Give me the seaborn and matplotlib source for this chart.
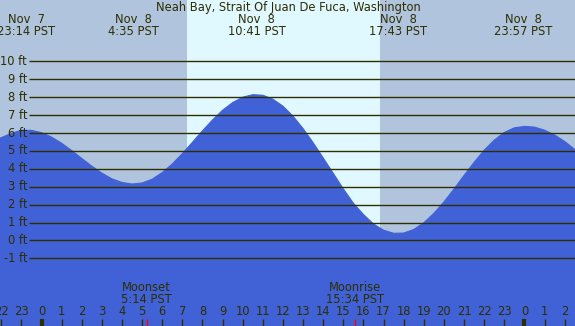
import numpy as np
import pandas as pd
import matplotlib
matplotlib.use("Agg")
import matplotlib.pyplot as plt
import seaborn as sns

# ---- data (hours relative to Nov 8 00:00 PST, heights in ft) ----
hours = [-2.1, -2.0, -1.5, -1.0, -0.5, 0.0, 0.5, 1.0, 1.5, 2.0, 2.5, 3.0, 3.5, 4.0, 4.5,
         5.0, 5.5, 6.0, 6.5, 7.0, 7.5, 8.0, 8.5, 9.0, 9.5, 10.0, 10.5, 11.0, 11.5, 12.0,
         12.5, 13.0, 13.5, 14.0, 14.5, 15.0, 15.5, 16.0, 16.5, 17.0, 17.5, 18.0, 18.5,
         19.0, 19.5, 20.0, 20.5, 21.0, 21.5, 22.0, 22.5, 23.0, 23.5, 24.0, 24.5, 25.0,
         25.5, 26.0, 26.6]
heights = [5.70, 5.74, 5.98, 6.15, 6.15, 6.02, 5.77, 5.43, 5.02, 4.58, 4.15, 3.76, 3.44,
           3.24, 3.15, 3.21, 3.42, 3.79, 4.27, 4.85, 5.48, 6.12, 6.73, 7.27, 7.70, 8.00,
           8.14, 8.11, 7.89, 7.50, 6.94, 6.25, 5.46, 4.61, 3.75, 2.88, 2.08, 1.45, 0.92,
           0.57, 0.40, 0.41, 0.61, 0.985, 1.51, 2.15, 2.87, 3.63, 4.36, 5.04, 5.60, 6.03,
           6.29, 6.37, 6.33, 6.16, 5.89, 5.53, 5.00]

title = "Neah Bay, Strait Of Juan De Fuca, Washington"
extreme_hours = [-0.767, 4.583, 10.683, 17.717, 23.95]
extreme_dates = ["Nov  7", "Nov  8", "Nov  8", "Nov  8", "Nov  8"]
extreme_times = ["23:14 PST", "4:35 PST", "10:41 PST", "17:43 PST", "23:57 PST"]

sunrise, sunset = 7.23, 16.82
moon_hours = [5.233, 15.567]
moon_names = ["Moonset", "Moonrise"]
moon_times = ["5:14 PST", "15:34 PST"]

tick_hours = list(range(-2, 27))
tick_labels = [str(h % 24) for h in tick_hours]
ft_levels = list(range(-1, 11))

# ---- styling ----
NIGHT = "#B0C4DE"
DAY = "#E0F8FF"
WATER = "#4162D6"
INK = "#2E2E00"
FS = 8.3

sns.set_style("white")
plt.rcParams["font.family"] = ["DejaVu Sans"]

fig = plt.figure(figsize=(5.75, 3.26), dpi=100)
ax = fig.add_axes([0, 0, 1, 1])
x0, x1 = -2.063, 26.515
y0, y1 = -4.78, 13.43
ax.set_xlim(x0, x1)
ax.set_ylim(y0, y1)
ax.set_axis_off()

# background night/day
ax.axvspan(x0, sunrise, color=NIGHT, lw=0, zorder=0)
ax.axvspan(sunrise, sunset, color=DAY, lw=0, zorder=0)
ax.axvspan(sunset, x1, color=NIGHT, lw=0, zorder=0)

df = pd.DataFrame({"hour": hours, "ft": heights})
ax.fill_between(df["hour"], y0 - 1, df["ft"], color=WATER, lw=0, zorder=1)
sns.lineplot(data=df, x="hour", y="ft", ax=ax, color=WATER, lw=0.8, zorder=2)
ax.set_xlim(x0, x1)
ax.set_ylim(y0, y1)

# horizontal ft lines and labels
px_x = (x1 - x0) / 575.0
px_y = (y1 - y0) / 326.0
line_start = x0 + 29 * px_x
for lv in ft_levels:
    ax.plot([line_start, x1], [lv, lv], color=INK, lw=1.0, zorder=3,
            solid_capstyle="butt")
    ax.text(x0 + 27 * px_x, lv, f"{lv} ft", ha="right", va="center",
            fontsize=FS, color=INK, zorder=4)

# title and extremes
ax.text(x0 + 288 * px_x, y1 - 7 * px_y, title, ha="center", va="center",
        fontsize=FS, color=INK, zorder=4)
for h, d, t in zip(extreme_hours, extreme_dates, extreme_times):
    ax.text(h, y1 - 19.5 * px_y, d, ha="center", va="center", fontsize=FS, color=INK, zorder=4)
    ax.text(h, y1 - 31.5 * px_y, t, ha="center", va="center", fontsize=FS, color=INK, zorder=4)

# hour ticks and labels
tick_top = y0 + 7.5 * px_y
for h, lab in zip(tick_hours, tick_labels):
    lw = 3 if h % 24 == 0 else 1
    ax.plot([h, h], [y0, tick_top], color=INK, lw=lw, zorder=4, solid_capstyle="butt")
    ax.text(h, y0 + 14.5 * px_y, lab, ha="center", va="center", fontsize=FS,
            color=INK, zorder=4)

# moon events
for h, n, t in zip(moon_hours, moon_names, moon_times):
    ax.plot([h, h], [y0, tick_top], color="red", lw=1, zorder=4, solid_capstyle="butt")
    ax.text(h, y0 + 38.5 * px_y, n, ha="center", va="center", fontsize=FS, color=INK, zorder=4)
    ax.text(h, y0 + 26.5 * px_y, t, ha="center", va="center", fontsize=FS, color=INK, zorder=4)

fig.savefig("out.png", dpi=100)
